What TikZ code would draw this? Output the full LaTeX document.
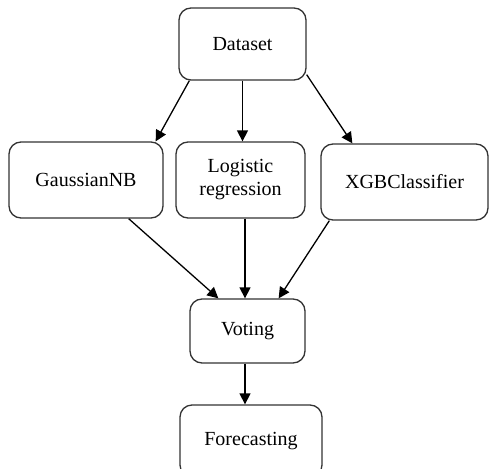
\documentclass[tikz,border=0pt]{standalone}
\usepackage{fontspec}
\setmainfont{Liberation Serif}
\usetikzlibrary{arrows.meta}

\begin{document}
\begin{tikzpicture}[x=1pt,y=-1pt,
		box/.style={draw=black!80, line width=1.3pt, rounded corners=12pt, inner sep=0pt,
			font=\fontsize{20}{23}\selectfont, align=center},
		flow/.style={line width=1.3pt, -{Triangle[length=11pt,width=11pt]}}]
			% Fix the frame of the picture
			\useasboundingbox (0,0) rectangle (489,468);
			
			% Draw the input box
			\node[box, minimum width=127pt, minimum height=72pt] (dataset) at (242.5,44) {Dataset};
			
			% Draw the three classifiers
			\node[box, minimum width=154pt, minimum height=76pt] (gnb) at (86,180) {GaussianNB};
			\node[box, minimum width=129pt, minimum height=76pt] (logreg) at (240.5,180) {Logistic\\regression};
			\node[box, minimum width=167pt, minimum height=76pt] (xgb) at (404.5,182) {XGBClassifier};
			
			% Draw the ensemble and the output
			\node[box, minimum width=115pt, minimum height=64pt] (voting) at (247.5,331) {Voting};
			\node[box, minimum width=142pt, minimum height=72pt] (forecast) at (251,441) {Forecasting};
			
			% Connect dataset to the classifiers
			\draw[flow] ([xshift=11pt]dataset.south west) -- ([xshift=-8pt]gnb.north east);
			\draw[flow] (dataset.south) -- (dataset.south |- logreg.north);
			\draw[flow] ([yshift=6pt]dataset.south east) -- ([xshift=32pt]xgb.north west);
			
			% Connect the classifiers to the vote
			\draw[flow] ([xshift=-35pt]gnb.south east) -- ([xshift=29pt]voting.north west);
			\draw[flow] ([xshift=4.5pt]logreg.south) -- ([xshift=4.5pt]logreg.south |- voting.north);
			\draw[flow] ([xshift=9pt]xgb.south west) -- ([xshift=-27pt]voting.north east);
			
			% Connect the vote to the forecast
			\draw[flow] ([xshift=-2.5pt]voting.south) -- ([xshift=-2.5pt]voting.south |- forecast.north);
		\end{tikzpicture}
\end{document}
